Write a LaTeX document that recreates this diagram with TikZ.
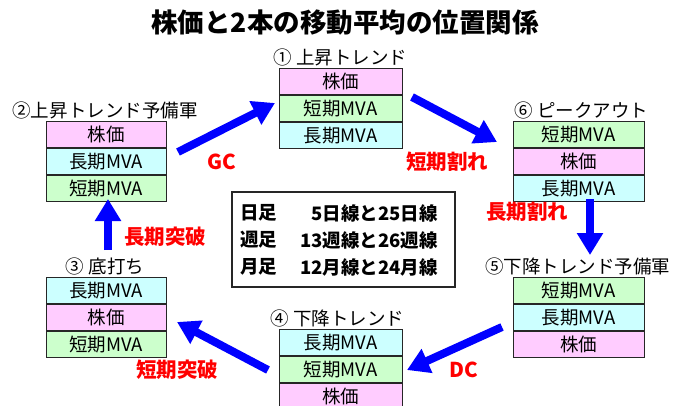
\documentclass[tikz,border=0pt]{standalone}
\usepackage{fontspec}
\setmainfont{Noto Sans CJK JP}
\usetikzlibrary{arrows.meta,calc}
\definecolor{pinkf}{HTML}{FFCCFF}
\definecolor{greenf}{HTML}{CCFFCC}
\definecolor{cyanf}{HTML}{CCFFFF}
\definecolor{arrblue}{HTML}{0000FF}
\definecolor{labred}{HTML}{FF0000}
\tikzset{
  cell/.style={draw=black!85, line width=0.9pt, rectangle, inner sep=0pt, anchor=north,
    minimum height=26pt, font=\fontsize{18.5}{18.5}\selectfont},
  pk/.style={cell, fill=pinkf},
  gr/.style={cell, fill=greenf},
  cy/.style={cell, fill=cyanf},
  boxlabel/.style={anchor=south, inner sep=0pt, font=\fontsize{18.5}{18.5}\selectfont},
  bigarrow/.style={draw=arrblue, line width=8pt, -{Triangle[length=22pt,width=25pt]}, arrblue},
  redlab/.style={text=labred, font=\fontsize{20.5}{20.5}\selectfont\bfseries, inner sep=0pt},
  tabtext/.style={font=\fontsize{18.5}{18.5}\selectfont\bfseries, inner sep=0pt}
}
\begin{document}
\begin{tikzpicture}[x=1pt,y=-1pt]
\useasboundingbox (0,0) rectangle (684,405);
\fill[white] (0,0) rectangle (684,405);

% title
\node[font=\fontsize{26.5}{26.5}\selectfont\bfseries, inner sep=0pt] (title) at (345,23) {株価と2本の移動平均の位置関係};

% box 1
\node[pk, minimum width=123pt] (b1a) at (340.5,68) {株価};
\node[gr, minimum width=123pt] (b1b) at (b1a.south) {短期MVA};
\node[cy, minimum width=123pt] (b1c) at (b1b.south) {長期MVA};
\node[boxlabel] (l1) at ($(b1a.north)+(0,-2)$) {① 上昇トレンド};

% box 2
\node[pk, minimum width=120pt] (b2a) at (106,121) {株価};
\node[cy, minimum width=120pt] (b2b) at (b2a.south) {長期MVA};
\node[gr, minimum width=120pt] (b2c) at (b2b.south) {短期MVA};
\node[boxlabel] (l2) at ($(b2a.north)+(-1,-2)$) {②上昇トレンド予備軍};

% box 6
\node[gr, minimum width=131pt] (b6a) at (578.5,121) {短期MVA};
\node[pk, minimum width=131pt] (b6b) at (b6a.south) {株価};
\node[cy, minimum width=131pt] (b6c) at (b6b.south) {長期MVA};
\node[boxlabel] (l6) at ($(b6a.north)+(3,-2)$) {⑥ ピークアウト};

% box 3
\node[cy, minimum width=120pt] (b3a) at (106,277) {長期MVA};
\node[pk, minimum width=120pt] (b3b) at (b3a.south) {株価};
\node[gr, minimum width=120pt] (b3c) at (b3b.south) {短期MVA};
\node[boxlabel] (l3) at ($(b3a.north)+(-1,-2)$) {③ 底打ち};

% box 5
\node[gr, minimum width=131pt] (b5a) at (578.5,277) {短期MVA};
\node[cy, minimum width=131pt] (b5b) at (b5a.south) {長期MVA};
\node[pk, minimum width=131pt] (b5c) at (b5b.south) {株価};
\node[boxlabel] (l5) at ($(b5a.north)+(-1,-2)$) {⑤下降トレンド予備軍};

% box 4
\node[cy, minimum width=123pt] (b4a) at (340.5,329) {長期MVA};
\node[gr, minimum width=123pt] (b4b) at (b4a.south) {短期MVA};
\node[pk, minimum width=123pt] (b4c) at (b4b.south) {株価};
\node[boxlabel] (l4) at ($(b4a.north)+(-3,-2)$) {④ 下降トレンド};

% centre table
\node[draw=black!85, line width=1.2pt, minimum width=223pt, minimum height=95pt, inner sep=0pt] (tab) at (343.5,239.5) {};
\node[tabtext, anchor=west] (t1a) at (240,213) {日足};
\node[tabtext, anchor=east] (t1b) at (438,213) {5日線と25日線};
\node[tabtext, anchor=west] (t2a) at (240,240) {週足};
\node[tabtext, anchor=east] (t2b) at (438,240) {13週線と26週線};
\node[tabtext, anchor=west] (t3a) at (240,267) {月足};
\node[tabtext, anchor=east] (t3b) at (438,267) {12月線と24月線};

% arrow end points
\coordinate (gcS) at (178,152);
\coordinate (gcE) at (275,103);
\coordinate (s1S) at (412,97);
\coordinate (s1E) at (497,142);
\coordinate (s2S) at (590,199);
\coordinate (s2E) at (590,255);
\coordinate (dcS) at (502,327);
\coordinate (dcE) at (407,370);
\coordinate (s3S) at (268,370);
\coordinate (s3E) at (177,322);
\coordinate (s4S) at (108,250);
\coordinate (s4E) at (108,199);

\draw[bigarrow] (gcS) -- (gcE);
\draw[bigarrow] (s1S) -- (s1E);
\draw[bigarrow] (s2S) -- (s2E);
\draw[bigarrow] (dcS) -- (dcE);
\draw[bigarrow] (s3S) -- (s3E);
\draw[bigarrow] (s4S) -- (s4E);

% red labels
\node[redlab] (rGC) at (222,162) {GC};
\node[redlab] (r1) at (447,162) {短期割れ};
\node[redlab] (r2) at (527,212) {長期割れ};
\node[redlab] (rDC) at (464,370) {DC};
\node[redlab] (r3) at (177,370) {短期突破};
\node[redlab] (r4) at (165,237) {長期突破};
\end{tikzpicture}
\end{document}
